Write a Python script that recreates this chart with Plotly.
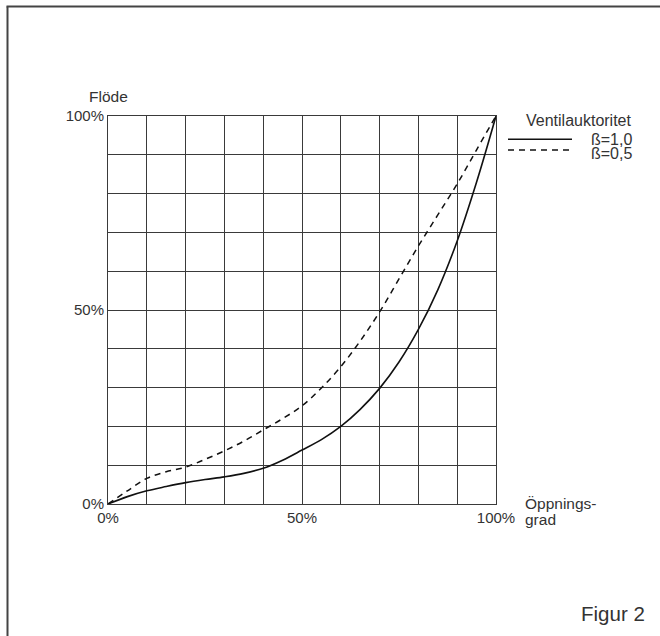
import plotly.graph_objects as go

# Data
x_vals = [0, 5, 10, 15, 20, 25, 30, 35, 40, 45, 50, 55, 60, 65, 70, 75, 80, 85, 90, 95, 100]
y_solid = [0, 1.9, 3.4, 4.5, 5.5, 6.3, 7.0, 7.9, 9.2, 11.3, 13.9, 16.6, 20, 24.4, 29.8, 36.6, 45, 55.2, 67.8, 83, 100]   # ß=1,0
y_dash = [0, 3.4, 6.6, 8.3, 9.5, 11.5, 13.7, 16.2, 19.1, 22.0, 25.3, 29.9, 35.4, 42, 49.5, 58, 66.5, 74.5, 82.5, 91.3, 100]  # ß=0,5

tick_vals = list(range(0, 101, 10))
tick_text = ["0%", "", "", "", "", "50%", "", "", "", "", "100%"]

legend_title = "Ventilauktoritet"
series_names = ["ß=1,0", "ß=0,5"]

FONT = "Liberation Sans, Arial, sans-serif"
TXT = "#333333"
GRID = "#3a3a3a"

L, T, W, H = 108, 116, 388, 388
def px(xp):
    return (xp - L) / W
def py(yp):
    return (T + H - yp) / H

fig = go.Figure()
fig.add_trace(go.Scatter(x=x_vals, y=y_solid, mode="lines", name=series_names[0], hoverinfo="skip",
                         line=dict(color="#111111", width=1.6, shape="spline", smoothing=1.0)))
fig.add_trace(go.Scatter(x=x_vals, y=y_dash, mode="lines", name=series_names[1], hoverinfo="skip",
                         line=dict(color="#111111", width=1.5, dash="6px,5px", shape="spline", smoothing=1.0)))

axis_common = dict(range=[0, 100], tickmode="array", tickvals=tick_vals, ticktext=tick_text,
                   showgrid=True, gridcolor=GRID, gridwidth=1, zeroline=False,
                   showline=True, linecolor=GRID, linewidth=1, mirror=True,
                   ticks="", tickfont=dict(family=FONT, size=15, color=TXT))

fig.update_layout(
    width=660, height=636,
    margin=dict(l=L, r=660 - L - W, t=T, b=636 - T - H),
    paper_bgcolor="white", plot_bgcolor="white",
    showlegend=False,
    xaxis=axis_common,
    yaxis=axis_common,
)

ann_font = dict(family=FONT, size=15.5, color=TXT)
leg_font = dict(family=FONT, size=16, color=TXT)
anns = [
    dict(text="Flöde", x=px(87), y=py(97), xanchor="left", yanchor="middle", font=ann_font),
    dict(text="Öppnings-", x=px(523), y=py(503), xanchor="left", yanchor="middle", font=ann_font),
    dict(text="grad", x=px(523), y=py(519), xanchor="left", yanchor="middle", font=ann_font),
    dict(text=legend_title, x=px(634), y=py(121), xanchor="right", yanchor="middle", font=leg_font),
    dict(text=series_names[0], x=px(634), y=py(139), xanchor="right", yanchor="middle", font=leg_font),
    dict(text=series_names[1], x=px(634), y=py(153), xanchor="right", yanchor="middle", font=leg_font),
]
for a in anns:
    fig.add_annotation(xref="paper", yref="paper", showarrow=False, **a)
fig.add_annotation(xref="paper", yref="paper", showarrow=False, text="Figur 2",
                   x=px(647), y=py(613), xanchor="right", yanchor="middle",
                   font=dict(family=FONT, size=20.5, color=TXT))

# legend samples
fig.add_shape(type="line", xref="paper", yref="paper", x0=px(508), x1=px(572), y0=py(139.3), y1=py(139.3),
              line=dict(color="#111111", width=1.6))
fig.add_shape(type="line", xref="paper", yref="paper", x0=px(508), x1=px(572), y0=py(150), y1=py(150),
              line=dict(color="#111111", width=1.5, dash="6px,5px"))

# outer frame (left and top edges)
fig.add_shape(type="line", xref="paper", yref="paper", x0=px(7.5), x1=px(7.5), y0=py(700), y1=py(6.5),
              line=dict(color="#444444", width=2))
fig.add_shape(type="line", xref="paper", yref="paper", x0=px(6.5), x1=px(700), y0=py(6.5), y1=py(6.5),
              line=dict(color="#444444", width=2))

fig.write_html("out.html", config={"displayModeBar": False},
               post_script="document.body.style.margin='0';document.body.style.overflow='hidden';")
